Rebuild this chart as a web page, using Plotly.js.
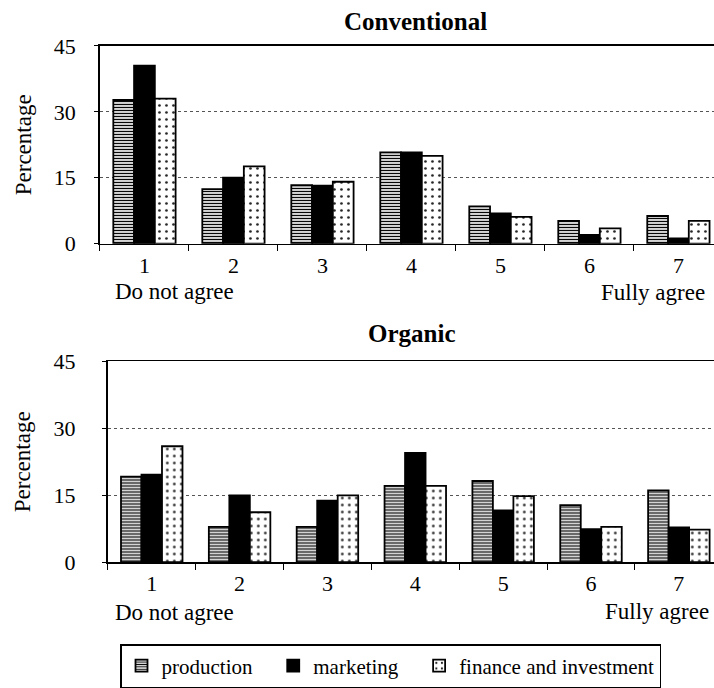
<!DOCTYPE html>
<html>
<head>
<meta charset="utf-8">
<script src="https://cdn.plot.ly/plotly-3.0.1.min.js"></script>
<style>
  html, body { margin: 0; padding: 0; background: #fff; }
  #chart { width: 714px; height: 688px; }
</style>
</head>
<body>
<div id="chart"></div>
<script>
const categories = ["1", "2", "3", "4", "5", "6", "7"];
const seriesNames = ["production\u00a0\u00a0\u00a0", "marketing\u00a0\u00a0\u00a0", "finance and investment"];

// Conventional farmers (%)
const convProduction = [32.7, 12.4, 13.3, 20.8, 8.5, 5.2, 6.3];
const convMarketing = [40.5, 15.0, 13.2, 20.8, 6.9, 2.0, 1.2];
const convFinance = [33.0, 17.6, 14.1, 20.0, 6.1, 3.5, 5.2];

// Organic farmers (%)
const orgProduction = [19.2, 7.9, 7.9, 17.1, 18.2, 12.8, 16.1];
const orgMarketing = [19.6, 15.0, 13.8, 24.5, 11.6, 7.4, 7.8];
const orgFinance = [26.0, 11.2, 15.0, 17.1, 14.8, 7.9, 7.3];

const yTicks = [0, 15, 30, 45];

const serif = "Liberation Serif";

const styles = [
  { color: "#fff", pattern: { shape: "-", fgcolor: "#000", bgcolor: "#fff", size: 3, solidity: 0.45 } },
  { color: "#000", pattern: { shape: "" } },
  { color: "#fff", pattern: { shape: ".", fgcolor: "#222", bgcolor: "#fff", size: 7, solidity: 0.12 } },
];

function makeTraces(values, xaxis, yaxis, showlegend) {
  return values.map((vals, i) => ({
    type: "bar",
    x: categories,
    y: vals,
    name: seriesNames[i],
    xaxis: xaxis,
    yaxis: yaxis,
    showlegend: showlegend,
    marker: {
      color: styles[i].color,
      pattern: styles[i].pattern,
      line: { color: "#000", width: 1.8 },
    },
    hoverinfo: "skip",
  }));
}

const traces = [
  ...makeTraces([convProduction, convMarketing, convFinance], "x", "y", true),
  ...makeTraces([orgProduction, orgMarketing, orgFinance], "x2", "y2", false),
];

function xAxis(domainLeft, anchor) {
  return {
    domain: [domainLeft, 1],
    anchor: anchor,
    type: "category",
    range: [-0.5, 6.4],
    showline: true,
    mirror: true,
    linecolor: "#000",
    linewidth: 1.8,
    ticks: "outside",
    tickson: "boundaries",
    ticklen: 6,
    tickcolor: "#000",
    showgrid: false,
    tickfont: { family: serif, size: 22, color: "#000" },
    ticklabelstandoff: 1,
    fixedrange: true,
  };
}

function yAxis(domain, anchor, standoff) {
  return {
    domain: domain,
    anchor: anchor,
    range: [0, 45],
    tickvals: yTicks,
    ticks: "outside",
    ticklen: 4,
    tickcolor: "#000",
    showline: true,
    linecolor: "#000",
    linewidth: 1.8,
    zeroline: false,
    showgrid: true,
    gridcolor: "#555",
    griddash: "dot",
    gridwidth: 1,
    tickfont: { family: serif, size: 22, color: "#000" },
    ticklabelstandoff: standoff,
    title: { text: "Percentage", font: { family: serif, size: 23, color: "#000" }, standoff: 16 },
    fixedrange: true,
  };
}

const labelFont = { family: serif, size: 23, color: "#000" };

const layout = {
  width: 714,
  height: 688,
  margin: { t: 0, r: 0, b: 0, l: 0 },
  paper_bgcolor: "#fff",
  plot_bgcolor: "#fff",
  font: { family: serif, color: "#000" },
  barmode: "group",
  bargap: 0.3,
  bargroupgap: 0,
  xaxis: xAxis(0.14, "y"),
  yaxis: yAxis([0.6453, 0.9331], "x", 14),
  xaxis2: xAxis(0.151, "y2"),
  yaxis2: yAxis([0.1817, 0.4738], "x2", 22),
  showlegend: true,
  legend: {
    orientation: "h",
    x: 120 / 714,
    xanchor: "left",
    y: 1 - 645 / 688,
    yanchor: "top",
    bordercolor: "#000",
    borderwidth: 1.5,
    font: { family: serif, size: 21, color: "#000" },
    traceorder: "normal",
  },
  annotations: [
    { text: "<b>Conventional</b>", xref: "paper", yref: "paper", x: 415 / 714, y: 1 - 22 / 688, xanchor: "center", yanchor: "middle", showarrow: false, font: { family: serif, size: 25, color: "#000" } },
    { text: "<b>Organic</b>", xref: "paper", yref: "paper", x: 412 / 714, y: 1 - 334 / 688, xanchor: "center", yanchor: "middle", showarrow: false, font: { family: serif, size: 25, color: "#000" } },
    { text: "Do not agree", xref: "paper", yref: "paper", x: 113 / 714, y: 1 - 292 / 688, xanchor: "left", yanchor: "middle", showarrow: false, font: labelFont },
    { text: "Fully agree", xref: "paper", yref: "paper", x: 707 / 714, y: 1 - 293 / 688, xanchor: "right", yanchor: "middle", showarrow: false, font: labelFont },
    { text: "Do not agree", xref: "paper", yref: "paper", x: 113 / 714, y: 1 - 613 / 688, xanchor: "left", yanchor: "middle", showarrow: false, font: labelFont },
    { text: "Fully agree", xref: "paper", yref: "paper", x: 711 / 714, y: 1 - 612 / 688, xanchor: "right", yanchor: "middle", showarrow: false, font: labelFont },
  ],
};

Plotly.newPlot("chart", traces, layout, { displayModeBar: false, staticPlot: true });
</script>
</body>
</html>
